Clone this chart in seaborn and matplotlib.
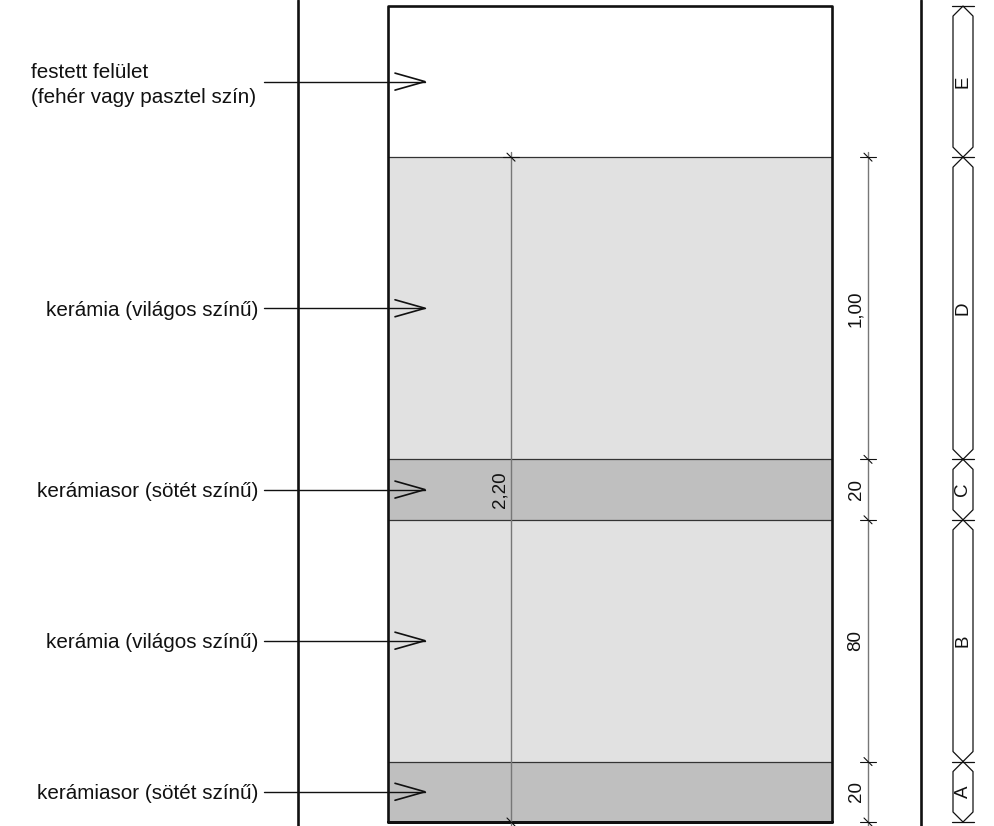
"""
Wall tiling elevation with dimension lines and zone markers, drawn with seaborn.
Vertical axis is in cm above the floor, horizontal axis is in pixels of the sheet.
"""

import numpy as np
import matplotlib
matplotlib.use("Agg")
import matplotlib.pyplot as plt
import seaborn as sns

# Bands from the floor upwards
band_heights = [20, 80, 20, 100, 50]
band_colors = ["#bfbfbf", "#e1e1e1", "#bfbfbf", "#e1e1e1", "#ffffff"]
zone_letters = ["A", "B", "C", "D", "E"]

# Leaders, top to bottom
leader_texts = [
    "festett felület\n(fehér vagy pasztel szín)",
    "kerámia (világos színű)",
    "kerámiasor (sötét színű)",
    "kerámia (világos színű)",
    "kerámiasor (sötét színű)",
]
leader_heights = [245, 170, 110, 60, 10]

# Dimensions
dim_labels = ["20", "80", "20", "1,00"]
total_label = "2,20"
total_top = 220

sns.set_style("white")
plt.rcParams["font.family"] = ["Liberation Sans", "DejaVu Sans"]

PX_PER_CM = 3.022
FLOOR_PX = 822
BLACK = "#111111"
GREY = "#777777"

fig = plt.figure(figsize=(9.95, 8.26), dpi=100)
ax = fig.add_axes([0, 0, 1, 1])


def line(xs, ys, lw=1.0, color=BLACK):
    sns.lineplot(x=xs, y=ys, sort=False, estimator=None, lw=lw, color=color,
                 ax=ax, legend=False)


def cm(px):
    # vertical pixel distance on the sheet to cm
    return px / PX_PER_CM


edges = np.concatenate([[0], np.cumsum(band_heights)])

# Tile bands
for bottom, height, col in zip(edges[:-1], band_heights, band_colors):
    sns.barplot(x=[610.0], y=[height], bottom=bottom, native_scale=True, width=444,
                color=col, saturation=1, linewidth=0, ax=ax)

# Band joints
for e in edges[1:-1]:
    line([388, 832], [e, e], lw=0.9, color="#333333")

# Wall lines and tile field outline
y_low = cm(FLOOR_PX - 826)
y_high = cm(FLOOR_PX)
line([298, 298], [y_low, y_high], lw=1.9)
line([921, 921], [y_low, y_high], lw=1.9)
top = edges[-1]
line([388, 832, 832, 388, 388, 832], [0, 0, top, top, 0, 0], lw=1.9)

# Leaders with open arrow heads
for text, h in zip(leader_texts, leader_heights):
    line([264, 425], [h, h], lw=1.0)
    line([395, 425, 395], [h + cm(8.5), h, h - cm(8.5)], lw=1.2)
    if "\n" in text:
        ax.text(31, h - cm(3), text, ha="left", va="center", fontsize=14.9,
                color=BLACK, linespacing=1.4)
    else:
        ax.text(258, h - cm(2), text, ha="right", va="center", fontsize=14.9,
                color=BLACK)


def dim_tick(x, y):
    line([x - 8, x + 8], [y, y], lw=0.8)
    line([x - 4, x + 4], [y + cm(4), y - cm(4)], lw=0.8)


# Running dimension chain
line([868, 868], [cm(FLOOR_PX - 826), edges[4] + cm(5)], lw=1.0, color=GREY)
for e in edges[:5]:
    dim_tick(868, e)
for low, high, label in zip(edges[:4], edges[1:5], dim_labels):
    ax.text(856, (low + high) / 2, label, rotation=90, ha="center", va="center",
            fontsize=13.5, color=BLACK)

# Total height dimension
line([511, 511], [cm(FLOOR_PX - 826), total_top + cm(5)], lw=1.0, color=GREY)
dim_tick(511, 0)
dim_tick(511, total_top)
ax.text(500, leader_heights[2], total_label, rotation=90, ha="center", va="center",
        fontsize=13.5, color=BLACK)

# Zone strip
left, mid, right = 953, 963, 973
ch = cm(10)
for low, high, letter in zip(edges[:-1], edges[1:], zone_letters):
    line([mid, right, right, mid, left, left, mid],
         [low, low + ch, high - ch, high, high - ch, low + ch, low], lw=0.9)
    ax.text(mid, (low + high) / 2, letter, rotation=90, ha="center", va="center",
            fontsize=13.5, color=BLACK)
for e in edges:
    line([left - 1, right + 1], [e, e], lw=0.9)

ax.set_xlim(0, 995)
ax.set_ylim(y_low, y_high)
ax.axis("off")

fig.savefig("out.png", dpi=100)
